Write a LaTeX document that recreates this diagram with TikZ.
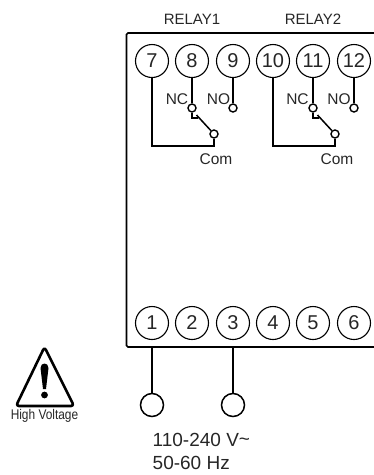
\documentclass[tikz,border=0pt]{standalone}
\usepackage{fontspec}
\setmainfont{Liberation Sans}
\newfontfamily\narrow[FakeStretch=0.85]{Liberation Sans}
\tikzset{
  term/.style={circle,draw=black,line width=1.1pt,minimum size=33pt,inner sep=0pt,font=\fontsize{20}{22}\selectfont,text=black!85},
  pin/.style={circle,draw=black,line width=1.4pt,minimum size=8pt,inner sep=0pt},
  lug/.style={circle,draw=black,line width=1.5pt,minimum size=23pt,inner sep=0pt},
  wire/.style={draw=black,line width=1.5pt},
  thin lbl/.style={inner sep=0pt,text=black!85,font=\fontsize{15}{16}\selectfont},
  pinlbl/.style={inner sep=0pt,text=black!85,font=\fontsize{15.5}{16}\selectfont},
}
\begin{document}
\begin{tikzpicture}[x=1pt,y=-1pt]
\useasboundingbox (0,0) rectangle (374,475);
% housing
\draw[line width=1.6pt,rounded corners=1.5pt] (375,33) -- (126.5,33) -- (126.5,347) -- (375,347);
% labels
\node[thin lbl] (r1) at (192,19) {RELAY1};
\node[thin lbl] (r2) at (313,19) {RELAY2};
% upper terminals
\node[term] (t7) at (152,61) {7};
\node[term] (t8) at (192,61) {8};
\node[term] (t9) at (233,61) {9};
\node[term] (t10) at (273,61) {10};
\node[term] (t11) at (313,61) {11};
\node[term] (t12) at (354,61) {12};
% lower terminals
\node[term] (t1) at (152,323) {1};
\node[term] (t2) at (192,323) {2};
\node[term] (t3) at (233,323) {3};
\node[term] (t4) at (273,323) {4};
\node[term] (t5) at (313,323) {5};
\node[term] (t6) at (354,323) {6};
% relay 1
\node[pin] (nc1) at (192,108) {};
\node[pin] (no1) at (233,108) {};
\node[pin] (com1) at (214,134) {};
\coordinate (k1) at (152,146);
\coordinate (b1) at (192,118);
\coordinate (e1) at (198,118);
\coordinate (s1) at (196.5,115);
\draw[wire] (t8) -- (nc1);
\draw[wire] (t9) -- (no1);
\draw[wire] (nc1) -- (b1) -- (e1);
\draw[wire] (s1) -- (com1);
\draw[wire] (t7) -- (k1) -| (com1);
\node[pinlbl] (lnc1) at (177,99) {NC};
\node[pinlbl] (lno1) at (218.5,99) {NO};
\node[pinlbl] (lc1) at (216,159) {Com};
% relay 2
\node[pin] (nc2) at (313,108) {};
\node[pin] (no2) at (354,108) {};
\node[pin] (com2) at (335,134) {};
\coordinate (k2) at (273,146);
\coordinate (b2) at (313,118);
\coordinate (e2) at (319,118);
\coordinate (s2) at (317.5,115);
\draw[wire] (t11) -- (nc2);
\draw[wire] (t12) -- (no2);
\draw[wire] (nc2) -- (b2) -- (e2);
\draw[wire] (s2) -- (com2);
\draw[wire] (t10) -- (k2) -| (com2);
\node[pinlbl] (lnc2) at (297.5,99) {NC};
\node[pinlbl] (lno2) at (339,99) {NO};
\node[pinlbl] (lc2) at (337,159) {Com};
% supply
\node[lug] (l1) at (152,405) {};
\node[lug] (l3) at (233,405) {};
\coordinate (a1) at (152,347);
\coordinate (a3) at (233,347);
\draw[wire] (a1) -- (l1);
\draw[wire] (a3) -- (l3);
\node[anchor=west,inner sep=0pt,text=black!85,font=\fontsize{19}{22}\selectfont] (v) at (152.5,440) {110-240 V\raisebox{1.5pt}{\textasciitilde}};
\node[anchor=west,inner sep=0pt,text=black!85,font=\fontsize{19}{22}\selectfont] (hz) at (152.5,463) {50-60 Hz};
% warning sign
\draw[line width=2.6pt,line join=round,rounded corners=3pt] (44.5,347) -- (74,406) -- (16,406) -- cycle;
\fill[black] (40.5,368) .. controls (40.5,362) and (48.5,362) .. (48.5,368) -- (46,389) -- (43,389) -- cycle;
\fill[black] (44.5,395) circle (3.4pt);
\node[inner sep=0pt,text=black!85,font=\narrow\fontsize{14}{15}\selectfont] (hv) at (44.5,416) {High Voltage};
\end{tikzpicture}
\end{document}
